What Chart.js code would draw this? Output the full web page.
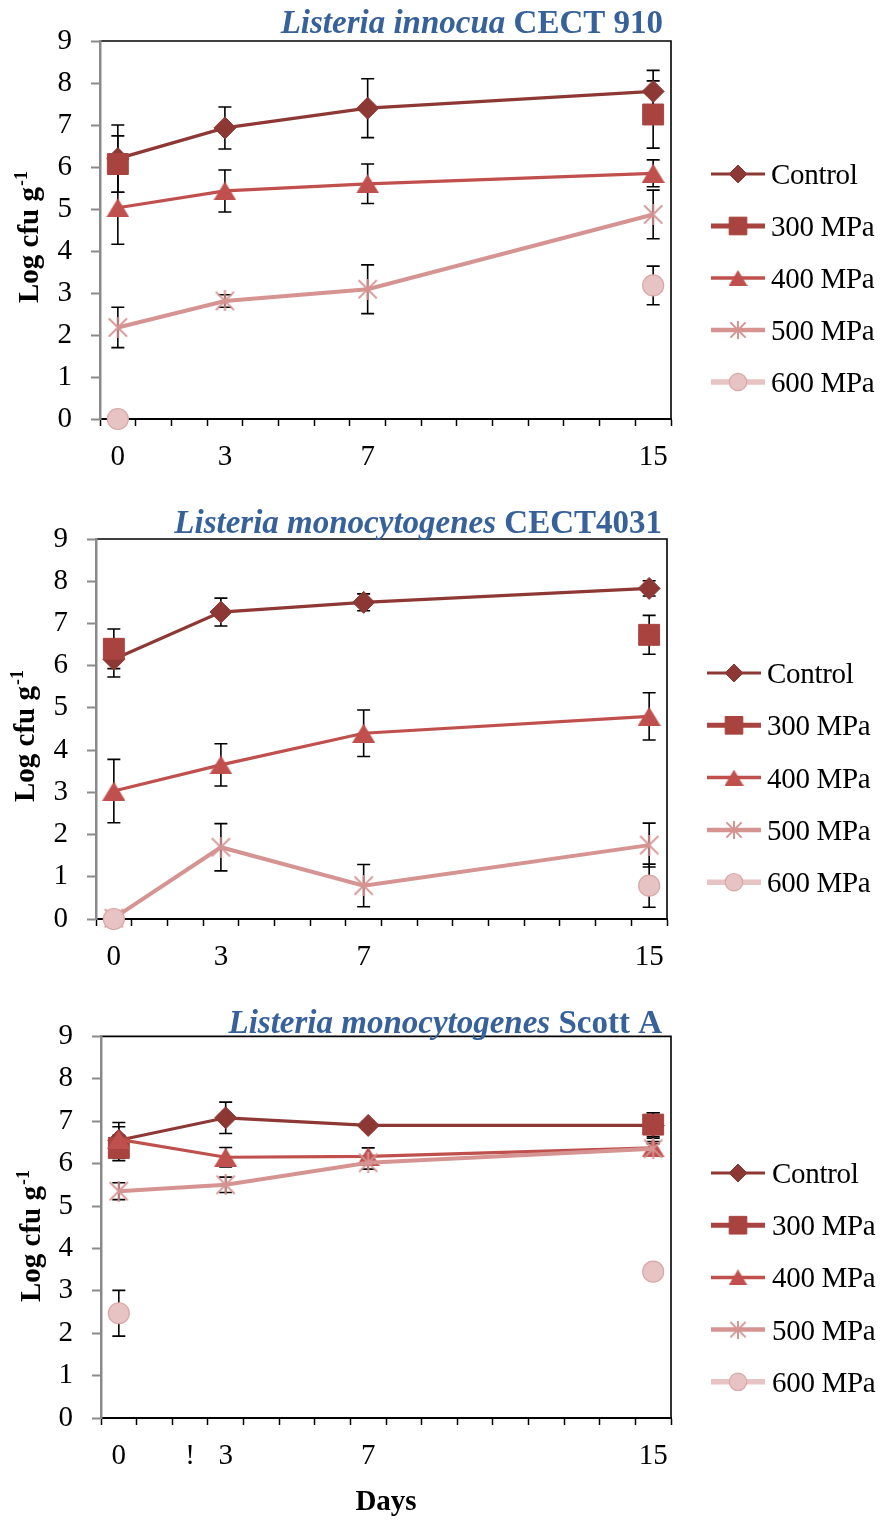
<!DOCTYPE html>
<html>
<head>
<meta charset="utf-8">
<script src="https://cdn.jsdelivr.net/npm/chart.js@4.4.1/dist/chart.umd.min.js"></script>
<style>
  html, body { margin: 0; padding: 0; background: #fff; }
  body { width: 891px; height: 1520px; position: relative; overflow: hidden; }
  .panel { position: absolute; left: 0; width: 891px; }
  .panel canvas { display: block; }
</style>
</head>
<body>
<div class="panel" style="top:0;height:500px"><canvas id="innocua" width="891" height="500"></canvas></div>
<div class="panel" style="top:500px;height:500px"><canvas id="cect4031" width="891" height="500"></canvas></div>
<div class="panel" style="top:1000px;height:520px"><canvas id="scott" width="891" height="520"></canvas></div>
<script>
// Storage days form a category axis (0–15); only sampled days carry a label.
const dayCategories = ['0','1','2','3','4','5','6','7','8','9','10','11','12','13','14','15'];
const sampledDays = ['0', '3', '7', '15'];
const dayTickText = ['0','','','3','','','','7','','','','','','','','15'];
const scottTickText = ['0','','!','3','','','','7','','','','','','','','15'];
const seriesNames = ['Control', '300 MPa', '400 MPa', '500 MPa', '600 MPa'];

// Listeria innocua CECT 910 — mean log cfu/g and standard deviation
const innocuaControl = [6.20, 6.93, 7.40, 7.80];
const innocuaControlSd = [0.80, 0.50, 0.70, 0.50];
const innocua300 = [6.07, null, null, 7.25];
const innocua300Sd = [0.67, null, null, 0.80];
const innocua400 = [5.03, 5.43, 5.60, 5.85];
const innocua400Sd = [0.87, 0.50, 0.47, 0.32];
const innocua500 = [2.18, 2.81, 3.09, 4.87];
const innocua500Sd = [0.48, 0.15, 0.58, 0.58];
const innocua600 = [0.00, null, null, 3.18];
const innocua600Sd = [0, null, null, 0.46];

// Listeria monocytogenes CECT 4031
const cect4031Control = [6.15, 7.27, 7.50, 7.83];
const cect4031ControlSd = [0.42, 0.33, 0.20, 0.18];
const cect4031_300 = [6.40, null, null, 6.73];
const cect4031_300Sd = [0.47, null, null, 0.46];
const cect4031_400 = [3.03, 3.65, 4.40, 4.80];
const cect4031_400Sd = [0.75, 0.50, 0.55, 0.56];
const cect4031_500 = [0.02, 1.70, 0.79, 1.75];
const cect4031_500Sd = [0, 0.56, 0.50, 0.52];
const cect4031_600 = [0.00, null, null, 0.79];
const cect4031_600Sd = [0, null, null, 0.51];

// Listeria monocytogenes Scott A
const scottControl = [6.55, 7.08, 6.90, 6.90];
const scottControlSd = [0.42, 0.37, 0.10, 0.30];
const scott300 = [6.37, null, null, 6.92];
const scott300Sd = [0.30, null, null, 0.28];
const scott400 = [6.57, 6.15, 6.17, 6.37];
const scott400Sd = [0.30, 0.23, 0.20, 0.15];
const scott500 = [5.35, 5.50, 6.02, 6.35];
const scott500Sd = [0.20, 0.18, 0.15, 0.12];
const scott600 = [2.47, null, null, 3.45];
const scott600Sd = [0.54, null, null, 0];

const SERIF = '"Liberation Serif", "DejaVu Serif", serif';
const TITLE_BLUE = '#37619A';
Chart.defaults.font.family = SERIF;
Chart.defaults.color = '#000';

// ---- marker glyphs -------------------------------------------------------
function triangleMarker(w, h, fill) {
  const c = document.createElement('canvas');
  c.width = w; c.height = h;
  const g = c.getContext('2d');
  g.fillStyle = fill;
  g.beginPath();
  g.moveTo(w / 2, 0); g.lineTo(w, h); g.lineTo(0, h);
  g.closePath(); g.fill();
  return c;
}
function asteriskMarker(s, stroke, lw) {
  const c = document.createElement('canvas');
  c.width = s; c.height = s;
  const g = c.getContext('2d');
  g.strokeStyle = stroke; g.lineWidth = lw;
  const m = lw * 0.7;
  g.beginPath();
  g.moveTo(s / 2, 0); g.lineTo(s / 2, s);
  g.moveTo(m, m); g.lineTo(s - m, s - m);
  g.moveTo(s - m, m); g.lineTo(m, s - m);
  g.stroke();
  return c;
}

const COLORS = ['#8E3836', '#A8433F', '#C0504D', '#D59492', '#E8C3C3'];
const seriesStyles = [
  { color: COLORS[0], line: 3.2, marker: 'rectRot', radius: 11, edge: COLORS[0], edgeW: 1,
    legendMarker: 'rectRot', legendRadius: 9, legendLine: 3 },
  { color: COLORS[1], line: 3.2, marker: 'rect', radius: 14.8, edge: COLORS[1], edgeW: 1,
    legendMarker: 'rect', legendRadius: 12.5, legendLine: 5 },
  { color: COLORS[2], line: 3.2, marker: triangleMarker(23, 19, COLORS[2]), radius: 10, edge: COLORS[2], edgeW: 0,
    legendMarker: triangleMarker(19, 16, COLORS[2]), legendRadius: 9, legendLine: 3.5 },
  { color: COLORS[3], line: 4,   marker: asteriskMarker(21, COLORS[3], 2), radius: 10, edge: COLORS[3], edgeW: 0,
    legendMarker: asteriskMarker(18, COLORS[3], 2), legendRadius: 9, legendLine: 4.5 },
  { color: COLORS[4], line: 4,   marker: 'circle', radius: 10.5, edge: '#D8A8A8', edgeW: 1.2,
    legendMarker: 'circle', legendRadius: 8.7, legendLine: 5.5 }
];

function points(values) {
  return sampledDays.map((d, i) => ({ x: d, y: values[i] }));
}

// ---- plugins ---------------------------------------------------------------
const errorBars = {
  id: 'errorBars',
  beforeDatasetsDraw(chart) {
    const { ctx, scales: { y } } = chart;
    ctx.save();
    ctx.strokeStyle = '#000';
    ctx.lineWidth = 1.6;
    chart.data.datasets.forEach((ds, di) => {
      const meta = chart.getDatasetMeta(di);
      ds.data.forEach((pt, i) => {
        const sd = ds.sd[i];
        if (pt.y == null || !sd) return;
        const px = meta.data[i].x;
        const hi = y.getPixelForValue(pt.y + sd);
        const lo = y.getPixelForValue(pt.y - sd);
        ctx.beginPath();
        ctx.moveTo(px, hi); ctx.lineTo(px, lo);
        ctx.moveTo(px - 6.5, hi); ctx.lineTo(px + 6.5, hi);
        ctx.moveTo(px - 6.5, lo); ctx.lineTo(px + 6.5, lo);
        ctx.stroke();
      });
    });
    ctx.restore();
  }
};

const panelDecor = {
  id: 'panelDecor',
  beforeDraw(chart) {
    const { ctx, chartArea: a } = chart;
    ctx.save();
    ctx.strokeStyle = '#000';
    ctx.lineWidth = 1.6;
    ctx.beginPath();
    ctx.moveTo(a.left, a.top);
    ctx.lineTo(a.right, a.top);
    ctx.lineTo(a.right, a.bottom);
    ctx.stroke();
    ctx.restore();
  },
  afterDraw(chart, args, o) {
    const { ctx } = chart;
    ctx.save();
    ctx.textAlign = 'left';
    ctx.textBaseline = 'alphabetic';

    // panel title: italic species name followed by the strain
    let total = 0;
    o.title.forEach(p => { ctx.font = p.font; p.w = ctx.measureText(p.text).width; total += p.w; });
    let tx = o.titleRight - total;
    ctx.fillStyle = TITLE_BLUE;
    o.title.forEach(p => { ctx.font = p.font; ctx.fillText(p.text, tx, o.titleBase); tx += p.w; });

    // y axis title, rotated, with superscript exponent
    ctx.fillStyle = '#000';
    ctx.save();
    ctx.translate(o.yTitleX, o.yTitleY);
    ctx.rotate(-Math.PI / 2);
    ctx.font = 'bold 29px ' + SERIF;
    ctx.fillText('Log cfu g', 0, 0);
    const gw = ctx.measureText('Log cfu g').width;
    ctx.font = 'bold 18px ' + SERIF;
    ctx.fillText('-1', gw + 1, -11);
    ctx.restore();

    // x axis title
    if (o.xTitle) {
      ctx.font = 'bold 29px ' + SERIF;
      ctx.textAlign = 'center';
      ctx.fillText(o.xTitle, o.xTitleX, o.xTitleY);
      ctx.textAlign = 'left';
    }

    // legend: line sample with marker, then the series name
    const lg = o.legend;
    chart.data.datasets.forEach((ds, i) => {
      const st = seriesStyles[i];
      const ly = lg.y0 + i * lg.gap;
      ctx.strokeStyle = st.color;
      ctx.lineWidth = st.legendLine;
      ctx.beginPath();
      ctx.moveTo(lg.x0, ly); ctx.lineTo(lg.x1, ly);
      ctx.stroke();
      ctx.fillStyle = st.color;
      ctx.strokeStyle = st.edge;
      ctx.lineWidth = st.edgeW;
      Chart.helpers.drawPoint(ctx, {
        pointStyle: st.legendMarker, radius: st.legendRadius,
        borderWidth: st.edgeW, rotation: 0
      }, (lg.x0 + lg.x1) / 2, ly);
      ctx.fillStyle = '#000';
      ctx.font = '29px ' + SERIF;
      ctx.letterSpacing = '-0.3px';
      ctx.fillText(ds.label, lg.tx, ly + 10);
      ctx.letterSpacing = '0px';
    });
    ctx.restore();
  }
};

// ---- panel builder ---------------------------------------------------------
function buildPanel(canvasId, series, tickText, box, decor) {
  const datasets = series.map((s, i) => {
    const st = seriesStyles[i];
    return {
      label: seriesNames[i],
      data: points(s[0]),
      sd: s[1],
      borderColor: st.color,
      backgroundColor: st.color,
      borderWidth: st.line,
      pointStyle: st.marker,
      pointRadius: st.radius,
      pointBackgroundColor: st.color,
      pointBorderColor: st.edge,
      pointBorderWidth: st.edgeW,
      order: series.length - i,
      clip: false,
      tension: 0,
      spanGaps: false
    };
  });

  return new Chart(document.getElementById(canvasId), {
    type: 'line',
    data: { datasets },
    options: {
      responsive: false,
      animation: false,
      events: [],
      layout: {
        padding: {
          left: box.left - 60,
          right: 891 - box.right,
          top: box.top,
          bottom: box.height - box.bottom - 60
        }
      },
      scales: {
        x: {
          type: 'category',
          labels: dayCategories,
          offset: true,
          grid: { offset: true, drawOnChartArea: false, drawTicks: true, tickLength: 7,
                  color: '#000', tickWidth: 1.5 },
          border: { color: '#000', width: 2 },
          ticks: {
            autoSkip: false, maxRotation: 0, minRotation: 0, padding: 14,
            font: { size: 29 }, color: '#000',
            callback: (v) => tickText[v]
          },
          afterFit: (s) => { s.height = 60; }
        },
        y: {
          min: 0, max: 9,
          ticks: { stepSize: 1, padding: 19, font: { size: 29 }, color: '#000' },
          grid: { drawOnChartArea: false, tickLength: 9, color: '#8A8A8A', tickWidth: 2 },
          border: { color: '#8A8A8A', width: 2.5 },
          afterFit: (s) => { s.width = 60; }
        }
      },
      plugins: {
        legend: { display: false },
        tooltip: { enabled: false },
        panelDecor: decor
      }
    },
    plugins: [errorBars, panelDecor]
  });
}

const italicTitle = 'italic bold 33px ' + SERIF;
const boldTitle = 'bold 33px ' + SERIF;

buildPanel('innocua',
  [[innocuaControl, innocuaControlSd], [innocua300, innocua300Sd], [innocua400, innocua400Sd],
   [innocua500, innocua500Sd], [innocua600, innocua600Sd]],
  dayTickText,
  { left: 100, right: 671, top: 41, bottom: 419, height: 500 },
  {
    title: [{ text: 'Listeria innocua', font: italicTitle }, { text: ' CECT 910', font: boldTitle }],
    titleRight: 663, titleBase: 33,
    yTitleX: 38, yTitleY: 303,
    legend: { x0: 711, x1: 765, tx: 771, y0: 174, gap: 52 }
  });

buildPanel('cect4031',
  [[cect4031Control, cect4031ControlSd], [cect4031_300, cect4031_300Sd], [cect4031_400, cect4031_400Sd],
   [cect4031_500, cect4031_500Sd], [cect4031_600, cect4031_600Sd]],
  dayTickText,
  { left: 96, right: 667, top: 39, bottom: 419, height: 500 },
  {
    title: [{ text: 'Listeria monocytogenes', font: italicTitle }, { text: ' CECT4031', font: boldTitle }],
    titleRight: 662, titleBase: 33,
    yTitleX: 34, yTitleY: 302,
    legend: { x0: 707, x1: 761, tx: 767, y0: 173, gap: 52.3 }
  });

buildPanel('scott',
  [[scottControl, scottControlSd], [scott300, scott300Sd], [scott400, scott400Sd],
   [scott500, scott500Sd], [scott600, scott600Sd]],
  scottTickText,
  { left: 101, right: 671, top: 36, bottom: 418, height: 520 },
  {
    title: [{ text: 'Listeria monocytogenes', font: italicTitle }, { text: ' Scott A', font: boldTitle }],
    titleRight: 662, titleBase: 33,
    yTitleX: 40, yTitleY: 302,
    xTitle: 'Days', xTitleX: 386, xTitleY: 510,
    legend: { x0: 711, x1: 765, tx: 772, y0: 173, gap: 52.2 }
  });
</script>
</body>
</html>
